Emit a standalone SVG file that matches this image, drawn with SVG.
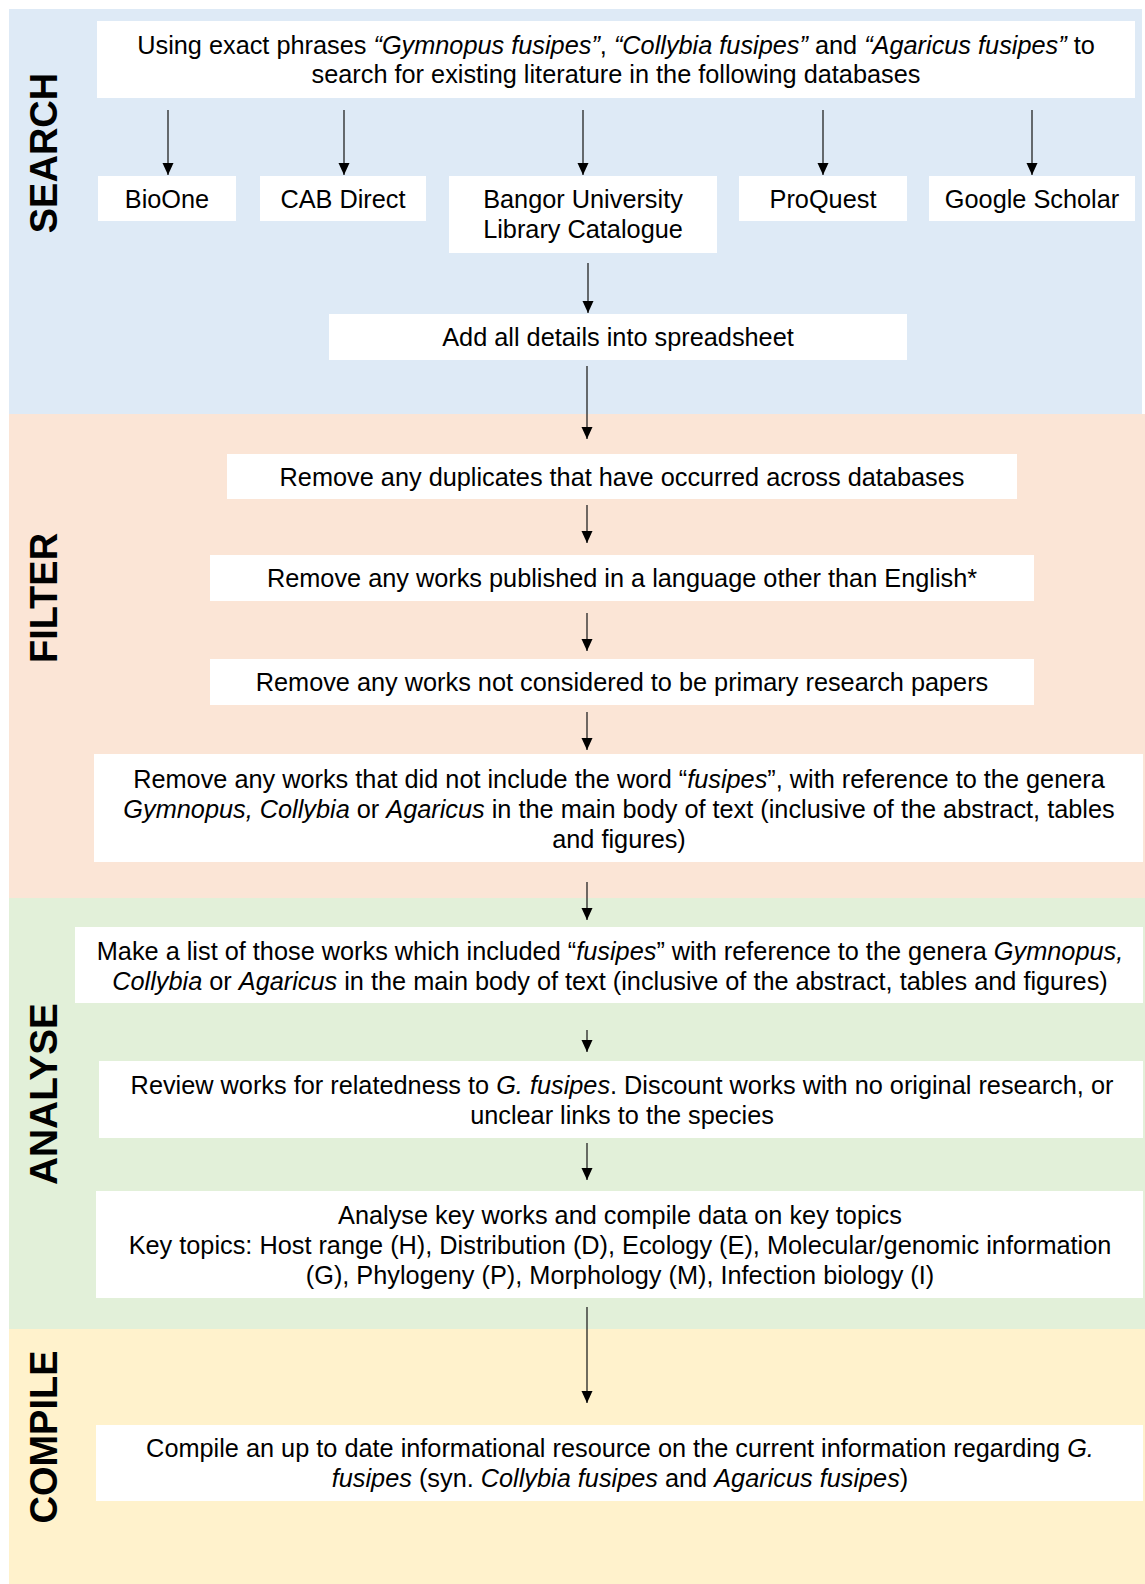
<svg xmlns="http://www.w3.org/2000/svg" width="1145" height="1584" viewBox="0 0 1145 1584">
<style>
  .band-search{fill:#DEEAF6}
  .band-filter{fill:#FBE5D6}
  .band-analyse{fill:#E2F0D9}
  .band-compile{fill:#FFF2CC}
  .box{fill:#FFFFFF}
  .t{font-family:"Liberation Sans",Arial,sans-serif;font-size:25.3px;fill:#000;text-anchor:middle}
  .i{font-style:italic}
  .lbl{font-family:"Liberation Sans",Arial,sans-serif;font-size:38px;font-weight:bold;fill:#000;text-anchor:middle}
  .c{stroke:#222;stroke-width:1.3;fill:none;marker-end:url(#ah)}
</style>
<defs>
  <marker id="ah" markerUnits="userSpaceOnUse" markerWidth="12" markerHeight="12" refX="12" refY="5.5" orient="auto">
    <path d="M0,0 L12,5.5 L0,11 z" fill="#000"/>
  </marker>
</defs>
<rect width="1145" height="1584" fill="#FFFFFF"/>
<g id="bands">
  <rect class="band-search" x="9" y="9" width="1133" height="405"/>
  <rect class="band-filter" x="9" y="414" width="1136" height="484"/>
  <rect class="band-analyse" x="9" y="898" width="1136" height="431"/>
  <rect class="band-compile" x="9" y="1329" width="1136" height="255"/>
</g>
<g id="labels">
  <text class="lbl" transform="translate(57,153) rotate(-90)">SEARCH</text>
  <text class="lbl" transform="translate(57,598) rotate(-90)">FILTER</text>
  <text class="lbl" transform="translate(57,1094) rotate(-90)" textLength="182" lengthAdjust="spacingAndGlyphs">ANALYSE</text>
  <text class="lbl" transform="translate(57,1437) rotate(-90)">COMPILE</text>
</g>
<g id="connectors">
  <line class="c" x1="168" y1="110" x2="168" y2="175"/>
  <line class="c" x1="344" y1="110" x2="344" y2="175"/>
  <line class="c" x1="583" y1="110" x2="583" y2="175"/>
  <line class="c" x1="823" y1="110" x2="823" y2="175"/>
  <line class="c" x1="1032" y1="110" x2="1032" y2="175"/>
  <line class="c" x1="588" y1="263" x2="588" y2="313"/>
  <line class="c" x1="587" y1="366" x2="587" y2="439"/>
  <line class="c" x1="587" y1="505" x2="587" y2="543"/>
  <line class="c" x1="587" y1="613" x2="587" y2="651"/>
  <line class="c" x1="587" y1="712" x2="587" y2="750"/>
  <line class="c" x1="587" y1="882" x2="587" y2="920"/>
  <line class="c" x1="587" y1="1030" x2="587" y2="1052"/>
  <line class="c" x1="587" y1="1143" x2="587" y2="1180"/>
  <line class="c" x1="587" y1="1307" x2="587" y2="1403"/>
</g>
<g id="n-search">
  <rect class="box" x="97" y="21" width="1038" height="77"/>
  <text class="t" x="616" y="53.5">Using exact phrases <tspan class="i">“Gymnopus fusipes”</tspan>, <tspan class="i">“Collybia fusipes”</tspan> and <tspan class="i">“Agaricus fusipes”</tspan> to</text>
  <text class="t" x="616" y="83">search for existing literature in the following databases</text>
</g>
<g id="n-bioone">
  <rect class="box" x="98" y="176" width="138" height="45"/>
  <text class="t" x="167" y="207.5">BioOne</text>
</g>
<g id="n-cab">
  <rect class="box" x="260" y="176" width="166" height="45"/>
  <text class="t" x="343" y="207.5">CAB Direct</text>
</g>
<g id="n-bangor">
  <rect class="box" x="449" y="176" width="268" height="77"/>
  <text class="t" x="583" y="207.5">Bangor University</text>
  <text class="t" x="583" y="237.5">Library Catalogue</text>
</g>
<g id="n-proquest">
  <rect class="box" x="739" y="176" width="168" height="45"/>
  <text class="t" x="823" y="207.5">ProQuest</text>
</g>
<g id="n-google">
  <rect class="box" x="929" y="176" width="206" height="45"/>
  <text class="t" x="1032" y="207.5">Google Scholar</text>
</g>
<g id="n-spreadsheet">
  <rect class="box" x="329" y="314" width="578" height="46"/>
  <text class="t" x="618" y="346">Add all details into spreadsheet</text>
</g>
<g id="n-duplicates">
  <rect class="box" x="227" y="454" width="790" height="45"/>
  <text class="t" x="622" y="485.5">Remove any duplicates that have occurred across databases</text>
</g>
<g id="n-language">
  <rect class="box" x="210" y="555" width="824" height="46"/>
  <text class="t" x="622" y="587">Remove any works published in a language other than English*</text>
</g>
<g id="n-primary">
  <rect class="box" x="210" y="659" width="824" height="46"/>
  <text class="t" x="622" y="691">Remove any works not considered to be primary research papers</text>
</g>
<g id="n-fusipes">
  <rect class="box" x="94" y="754" width="1049" height="108"/>
  <text class="t" x="619" y="787.5">Remove any works that did not include the word “<tspan class="i">fusipes</tspan>”, with reference to the genera</text>
  <text class="t" x="619" y="817.5"><tspan class="i">Gymnopus, Collybia</tspan> or <tspan class="i">Agaricus</tspan> in the main body of text (inclusive of the abstract, tables</text>
  <text class="t" x="619" y="847.5">and figures)</text>
</g>
<g id="n-list">
  <rect class="box" x="75" y="927" width="1068" height="76"/>
  <text class="t" x="610" y="959.5">Make a list of those works which included “<tspan class="i">fusipes</tspan>” with reference to the genera <tspan class="i">Gymnopus,</tspan></text>
  <text class="t" x="610" y="989.5"><tspan class="i">Collybia</tspan> or <tspan class="i">Agaricus</tspan> in the main body of text (inclusive of the abstract, tables and figures)</text>
</g>
<g id="n-review">
  <rect class="box" x="99" y="1061" width="1044" height="77"/>
  <text class="t" x="622" y="1093.5">Review works for relatedness to <tspan class="i">G. fusipes</tspan>. Discount works with no original research, or</text>
  <text class="t" x="622" y="1123.5">unclear links to the species</text>
</g>
<g id="n-analyse">
  <rect class="box" x="96" y="1191" width="1047" height="107"/>
  <text class="t" x="620" y="1224">Analyse key works and compile data on key topics</text>
  <text class="t" x="620" y="1254">Key topics: Host range (H), Distribution (D), Ecology (E), Molecular/genomic information</text>
  <text class="t" x="620" y="1284">(G), Phylogeny (P), Morphology (M), Infection biology (I)</text>
</g>
<g id="n-compile">
  <rect class="box" x="96" y="1425" width="1047" height="76"/>
  <text class="t" x="620" y="1457">Compile an up to date informational resource on the current information regarding <tspan class="i">G.</tspan></text>
  <text class="t" x="620" y="1487"><tspan class="i">fusipes</tspan> (syn. <tspan class="i">Collybia fusipes</tspan> and <tspan class="i">Agaricus fusipes</tspan>)</text>
</g>
</svg>
